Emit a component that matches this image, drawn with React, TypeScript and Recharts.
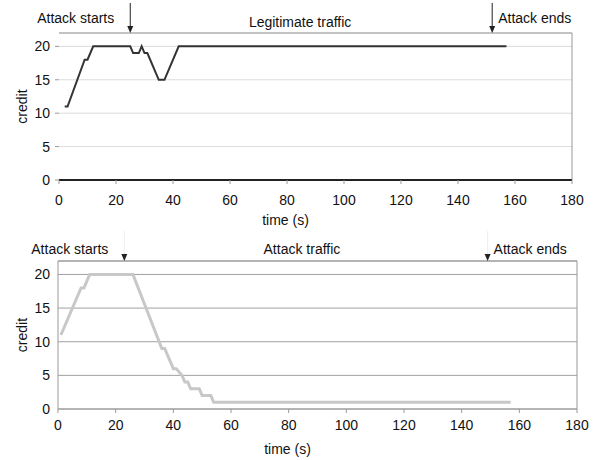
import { LineChart, Line, XAxis, YAxis, CartesianGrid, ReferenceLine } from 'recharts';

const timeTicks = [0, 20, 40, 60, 80, 100, 120, 140, 160, 180];
const creditTicks = [0, 5, 10, 15, 20];

// legitimate traffic (top panel)
const legitTime = [2, 3, 9, 10, 12, 25, 26, 28, 29, 30, 31, 35, 37, 42, 157];
const legitCredit = [11, 11, 18, 18, 20, 20, 19, 19, 20, 19, 19, 15, 15, 20, 20];
const legitStart = 25;
const legitEnd = 152;

// attack traffic (bottom panel)
const attackTime = [1, 8, 9, 11, 26, 36, 37, 40, 41, 43, 44, 45, 46, 49, 50, 53, 54, 157];
const attackCredit = [11, 18, 18, 20, 20, 9, 9, 6, 6, 5, 4, 4, 3, 3, 2, 2, 1, 1];
const attackStart = 23;
const attackEnd = 149;

const legitData = legitTime.map((t, i) => ({ time: t, credit: legitCredit[i] }));
const attackData = attackTime.map((t, i) => ({ time: t, credit: attackCredit[i] }));

const FONT = "'Liberation Sans', Arial, sans-serif";
const TXT = '#111';
const FS = 14;

function Arrow(props: any) {
  const { x1, y1, y2, text, side, shaft, head, length, textDy } = props;
  const top = Math.min(y1, y2);
  return (
    <g>
      <line x1={x1} x2={x1} y1={top - length} y2={top - 4} stroke={shaft} strokeWidth={1} />
      <path d={`M${x1 - 3},${top - 7} L${x1 + 3},${top - 7} L${x1},${top} Z`} fill={head} />
      <text
        x={side === 'left' ? x1 - 16 : x1 + 6}
        y={top - textDy}
        textAnchor={side === 'left' ? 'end' : 'start'}
        fontSize={FS}
        fontFamily={FONT}
        fill={TXT}
      >
        {text}
      </text>
    </g>
  );
}

function Panel(props: any) {
  const { data, title, top, margin, lineColor, lineWidth, gridColor, axisColor, zeroAxisColor, zeroAxisWidth,
    showYAxisLine, start, end, shaft, textDy, titleDy, tickMargin } = props;
  return (
    <div style={{ position: 'absolute', left: 0, top }}>
      <LineChart width={597} height={230} data={data} margin={margin} style={{ fontFamily: FONT }}>
        <CartesianGrid vertical={false} stroke={gridColor} />
        <XAxis
          dataKey="time"
          type="number"
          domain={[0, 180]}
          ticks={timeTicks}
          height={45}
          tickSize={4}
          tickMargin={tickMargin}
          tickLine={{ stroke: axisColor }}
          axisLine={{ stroke: zeroAxisColor, strokeWidth: zeroAxisWidth }}
          tick={{ fontSize: FS, fill: TXT }}
          label={{
            content: ({ viewBox }: any) => (
              <text x={viewBox.x + viewBox.width / 2 - 30} y={viewBox.y + 45} textAnchor="middle" fontSize={FS} fontFamily={FONT} fill={TXT}>
                time (s)
              </text>
            ),
          }}
        />
        <YAxis
          type="number"
          domain={[0, 22]}
          ticks={creditTicks}
          width={39}
          tickSize={showYAxisLine ? 0 : 4}
          tickMargin={showYAxisLine ? 8 : 5}
          tickLine={showYAxisLine ? false : { stroke: axisColor }}
          axisLine={showYAxisLine ? { stroke: axisColor } : false}
          tick={{ fontSize: FS, fill: TXT }}
          label={{
            content: ({ viewBox }: any) => {
              const cx = 22;
              const cy = viewBox.y + viewBox.height / 2;
              return (
                <text x={cx} y={cy} transform={`rotate(-90 ${cx} ${cy})`} textAnchor="middle" dominantBaseline="central" fontSize={FS} fontFamily={FONT} fill={TXT}>
                  credit
                </text>
              );
            },
          }}
        />
        <ReferenceLine
          y={22}
          stroke={axisColor}
          label={{
            content: ({ viewBox }: any) => (
              <text x={viewBox.x + viewBox.width * 0.47} y={viewBox.y - titleDy} textAnchor="middle" fontSize={FS} fontFamily={FONT} fill={TXT}>
                {title}
              </text>
            ),
          }}
        />
        <ReferenceLine x={180} stroke={axisColor} />
        <ReferenceLine
          x={start}
          stroke="none"
          shape={(p: any) => <Arrow {...p} text="Attack starts" side="left" shaft={shaft} head="#222" length={30} textDy={textDy} />}
        />
        <ReferenceLine
          x={end}
          stroke="none"
          shape={(p: any) => <Arrow {...p} text="Attack ends" side="right" shaft={shaft} head="#222" length={30} textDy={textDy} />}
        />
        <Line type="linear" dataKey="credit" stroke={lineColor} strokeWidth={lineWidth} dot={false} isAnimationActive={false} />
      </LineChart>
    </div>
  );
}

export default function App() {
  return (
    <div style={{ position: 'absolute', left: 0, top: 0, width: 597, height: 460, background: '#fff' }}>
      <Panel
        data={legitData}
        title="Legitimate traffic"
        top={0}
        margin={{ top: 33, right: 25, left: 20, bottom: 5 }}
        lineColor="#333"
        lineWidth={2}
        gridColor="#dcdcdc"
        axisColor="#999"
        zeroAxisColor="#222"
        zeroAxisWidth={2}
        showYAxisLine={false}
        start={legitStart}
        end={legitEnd}
        shaft="#222"
        textDy={10}
        titleDy={6}
        tickMargin={11}
      />
      <Panel
        data={attackData}
        title="Attack traffic"
        top={230}
        margin={{ top: 31, right: 20, left: 19, bottom: 6 }}
        lineColor="#c8c8c8"
        lineWidth={3}
        gridColor="#a0a0a0"
        axisColor="#999"
        zeroAxisColor="#999"
        zeroAxisWidth={1}
        showYAxisLine={true}
        start={attackStart}
        end={attackEnd}
        shaft="#eee"
        textDy={7}
        titleDy={7}
        tickMargin={7}
      />
    </div>
  );
}
